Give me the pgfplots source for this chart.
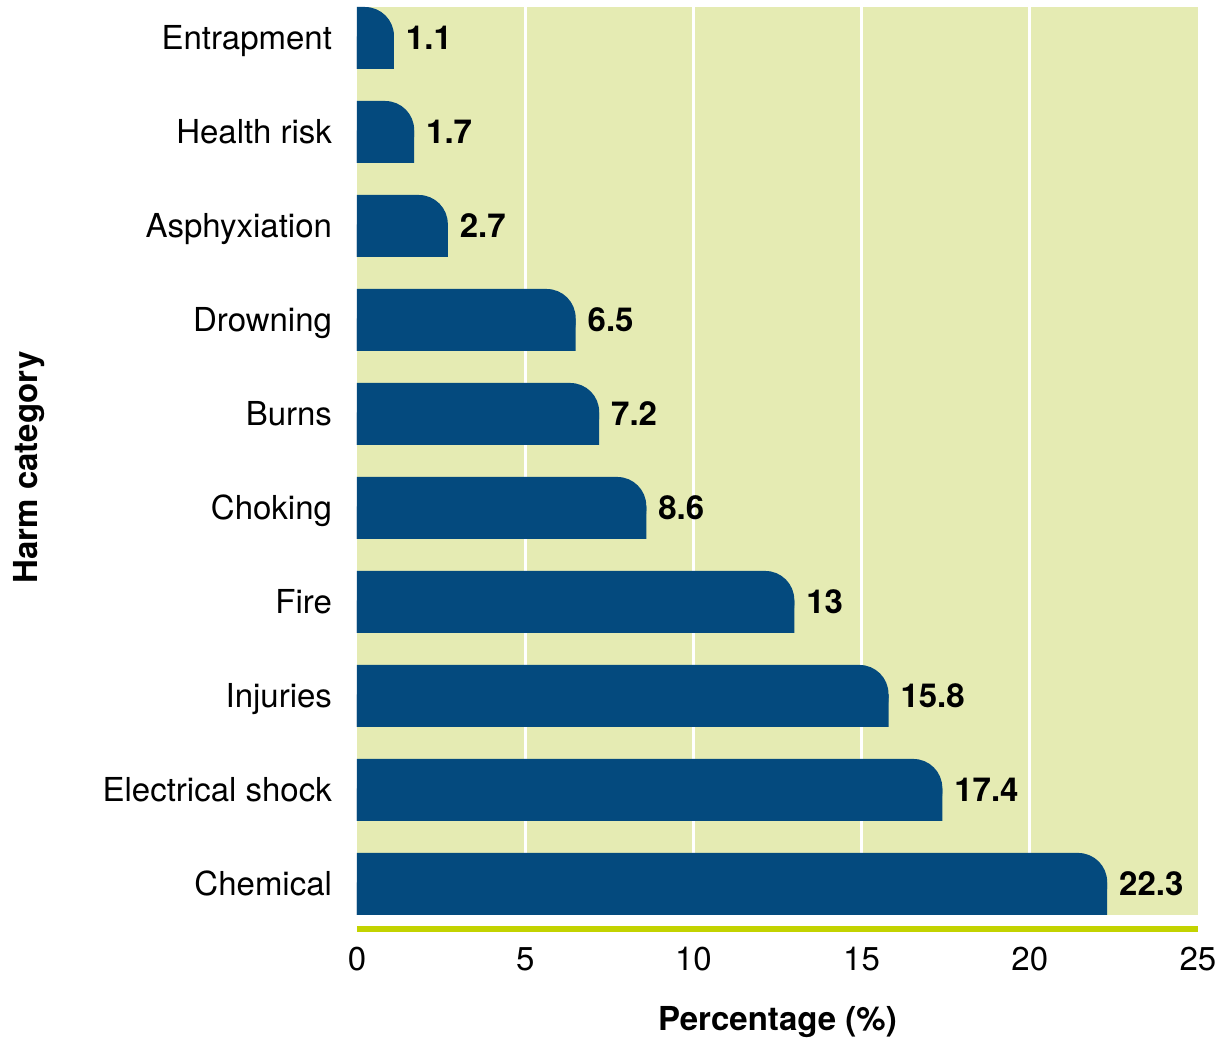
\documentclass[border=0pt]{standalone}
\usepackage{pgfplots}
\usepackage{pgfplotstable}
\pgfplotsset{compat=1.18}
\usepackage{fontspec}
\setmainfont{TeX Gyre Heros}

\definecolor{barblue}{HTML}{044A7E}
\definecolor{panel}{HTML}{E5EBB3}
\definecolor{limeline}{HTML}{C3D300}

% Share of reported harm by category (%)
\pgfplotstableread{
pos v
0 22.3
1 17.4
2 15.8
3 13
4 8.6
5 7.2
6 6.5
7 2.7
8 1.7
9 1.1
}\harm

\begin{document}
\begin{tikzpicture}[font=\fontsize{13.2pt}{15.8pt}\selectfont]
\begin{axis}[
  name=ax,
  scale only axis,
  width=336.4pt, height=363.2pt,
  xmin=0, xmax=25, ymin=-0.33, ymax=9.33,
  enlargelimits=false,
  axis background/.style={fill=panel},
  axis line style={draw=none},
  major tick length=0pt,
  tick style={draw=none},
  xtick={0,5,...,25},
  extra x ticks={5,10,15,20},
  extra x tick labels={},
  extra x tick style={grid=major},
  grid style={white, line width=1.2pt},
  ytick={0,...,9},
  yticklabels={Chemical, Electrical shock, Injuries, Fire, Choking, Burns, Drowning, Asphyxiation, Health risk, Entrapment},
  /pgf/number format/assume math mode=true,
  xticklabel style={inner sep=0pt, anchor=north, yshift=-12.8pt},
  yticklabel style={inner sep=0pt, anchor=base east, xshift=-9.8pt, yshift=-4.7pt},
  xlabel={\bfseries Percentage (\%)},
  ylabel={\bfseries Harm category},
  xlabel style={at={([yshift=-36.4pt]rel axis cs:0.5,0)}, anchor=north, inner sep=0pt},
  ylabel style={at={([xshift=-131.2pt,yshift=-2.6pt]rel axis cs:0,0.5)}, anchor=center, inner sep=0pt},
]
% bars with rounded ends; the left part is shifted out of the clip region
\addplot[xbar, bar width=24.8pt, fill=barblue, draw=none,
  rounded corners=11.6pt, xshift=-13.456pt]
  table[x expr=\thisrow{v}+1, y=pos]{\harm};
% square off the lower half of each bar
\addplot[xbar, bar width=13pt, bar shift=-5.9pt, fill=barblue, draw=none]
  table[x=v, y=pos]{\harm};
% value labels
\addplot[xbar, bar width=24.8pt, draw=none, fill=none,
  point meta=x,
  nodes near coords={\pgfmathprintnumber{\pgfplotspointmeta}},
  nodes near coords style={font=\fontsize{13.2pt}{15.8pt}\selectfont\bfseries, anchor=west, inner sep=4.6pt, text=black}]
  table[x=v, y=pos]{\harm};
\end{axis}
\draw[limeline, line width=2.4pt] ([yshift=-5.6pt]ax.south west) -- ([yshift=-5.6pt]ax.south east);
\path ([xshift=-142.8pt, yshift=2.8pt]ax.north west) rectangle ++(488pt,-416.4pt);
\end{tikzpicture}
\end{document}
